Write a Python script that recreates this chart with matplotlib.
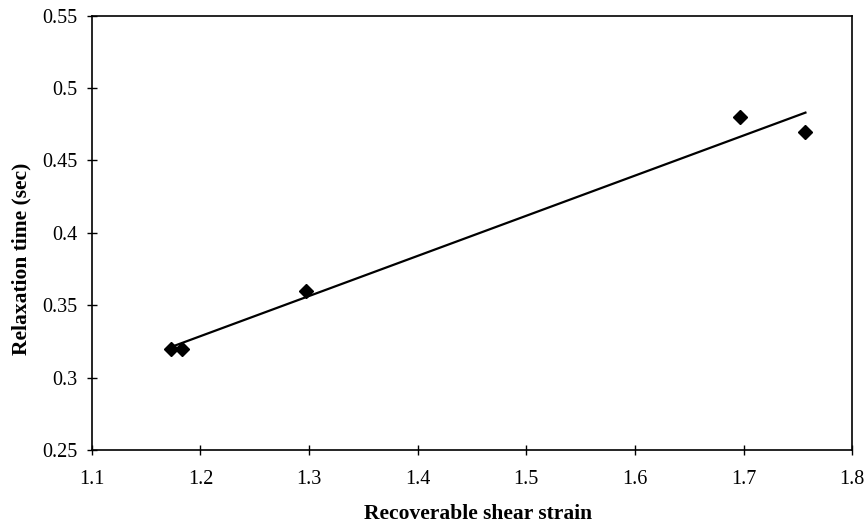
import numpy as np
import matplotlib
matplotlib.use("Agg")
import matplotlib.pyplot as plt
from matplotlib.ticker import FormatStrFormatter, FuncFormatter

# measured points
strain = [1.173, 1.183, 1.297, 1.697, 1.757]
relax_time = [0.32, 0.32, 0.36, 0.48, 0.47]

x_ticks = [1.1, 1.2, 1.3, 1.4, 1.5, 1.6, 1.7, 1.8]
y_ticks = [0.25, 0.3, 0.35, 0.4, 0.45, 0.5, 0.55]

plt.rcParams["font.family"] = ["Liberation Serif", "DejaVu Serif"]

fig = plt.figure(figsize=(8.66, 5.25), dpi=100)
ax = fig.add_axes([0.106, 0.143, 0.878, 0.827])

# linear trendline over the data range
slope, icpt = np.polyfit(strain, relax_time, 1)
xl = np.array([min(strain), max(strain)])
ax.plot(xl, slope * xl + icpt, color="black", lw=1.6, zorder=2)

ax.plot(strain, relax_time, "D", color="black", ms=7, zorder=3)

ax.set_xlim(1.1, 1.8)
ax.set_ylim(0.25, 0.55)
ax.set_xticks(x_ticks)
ax.set_yticks(y_ticks)
ax.xaxis.set_major_formatter(FormatStrFormatter("%.1f"))
ax.yaxis.set_major_formatter(FuncFormatter(lambda v, p: "%g" % round(v, 2)))
ax.tick_params(direction="inout", length=7, width=1, labelsize=14.5)
ax.tick_params(axis="x", pad=11)
ax.tick_params(axis="y", pad=7)

for s in ax.spines.values():
    s.set_linewidth(1.2)

ax.set_xlabel("Recoverable shear strain", fontsize=15.5, fontweight="bold")
ax.set_ylabel("Relaxation time (sec)", fontsize=15.5, fontweight="bold")
ax.xaxis.set_label_coords(0.508, -0.124)
ax.yaxis.set_label_coords(-0.079, 0.44)

fig.savefig("out.png", dpi=100)
